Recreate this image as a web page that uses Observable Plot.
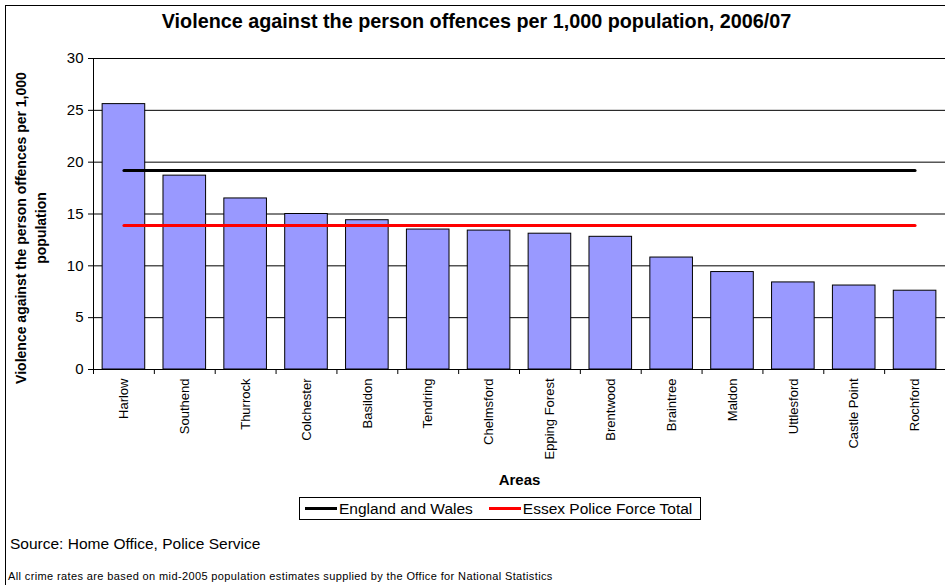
<!DOCTYPE html>
<html>
<head>
<meta charset="utf-8">
<script src="https://cdn.jsdelivr.net/npm/d3@7"></script>
<script src="https://cdn.jsdelivr.net/npm/@observablehq/plot@0.6"></script>
<style>
  html, body { margin:0; padding:0; background:#fff; overflow:hidden; }
  body { width:945px; height:585px; position:relative; font-family: Arial, "Liberation Sans", sans-serif; color:#000; }
  #border { position:absolute; left:5px; top:5px; width:1000px; height:700px; border-left:1.5px solid #000; border-top:1.5px solid #000; box-sizing:border-box; }
  #title { position:absolute; left:4px; width:945px; top:10px; text-align:center; font-weight:bold; font-size:19.8px; }
  #chart { position:absolute; left:0; top:40px; }
  #legend { position:absolute; left:299px; top:497px; width:402px; height:23px; border:1px solid #000; box-sizing:border-box; display:flex; align-items:center; font-size:15.5px; white-space:nowrap; }
  #legend .sw { display:inline-block; width:32px; height:3px; margin-right:2px; }
  #source { position:absolute; left:10px; top:535px; font-size:15.5px; }
  #note { position:absolute; left:8px; top:570px; font-size:11px; letter-spacing:0.38px; }
</style>
</head>
<body>
<div id="border"></div>
<div id="title"></div>
<div id="chart"></div>
<div id="legend"></div>
<div id="source"></div>
<div id="note"></div>
<script>
const titleText = "Violence against the person offences per 1,000 population, 2006/07";
const yLabel = "Violence against the person offences per 1,000\npopulation";
const xLabel = "Areas";
const areas = ["Harlow","Southend","Thurrock","Colchester","Basildon","Tendring","Chelmsford","Epping Forest","Brentwood","Braintree","Maldon","Uttlesford","Castle Point","Rochford"];
const rates = [25.6, 18.7, 16.5, 15.0, 14.4, 13.5, 13.4, 13.1, 12.8, 10.8, 9.4, 8.4, 8.1, 7.6];
const englandWales = 19.2;
const essexTotal = 13.9;
const yTicks = [0, 5, 10, 15, 20, 25, 30];
const seriesNames = ["England and Wales", "Essex Police Force Total"];
const seriesColors = ["#000000", "#FF0000"];
const sourceText = "Source: Home Office, Police Service";
const noteText = "All crime rates are based on mid-2005 population estimates supplied by the Office for National Statistics";

const data = areas.map((a, i) => ({area: a, rate: rates[i]}));

const W = 945, H = 450, ML = 93, MR = 0, MT = 18, MB = 121;
const step = (W - ML - MR) / areas.length;

document.getElementById("title").textContent = titleText;
document.getElementById("source").textContent = sourceText;
document.getElementById("note").textContent = noteText;

const legend = document.getElementById("legend");
legend.innerHTML = "";
seriesNames.forEach((n, i) => {
  const item = document.createElement("span");
  item.style.display = "inline-flex";
  item.style.alignItems = "center";
  item.style.marginLeft = i === 0 ? "5px" : "16px";
  const sw = document.createElement("span");
  sw.className = "sw";
  sw.style.background = seriesColors[i];
  item.appendChild(sw);
  item.appendChild(document.createTextNode(n));
  legend.appendChild(item);
});

const plot = Plot.plot({
  width: W, height: H,
  marginLeft: ML, marginRight: MR, marginTop: MT, marginBottom: MB,
  style: {fontFamily: "Arial, 'Liberation Sans', sans-serif", fontSize: "15px", color: "#000", background: "transparent", overflow: "visible"},
  x: {domain: areas, paddingInner: 0.3, paddingOuter: 0.15, round: false, label: null},
  y: {domain: [0, 30], ticks: yTicks, label: null},
  marks: [
    Plot.ruleY(yTicks.filter(d => d > 0), {stroke: "#000", strokeWidth: 1}),
    Plot.barY(data, {x: "area", y: "rate", fill: "#9999FF", stroke: "#000", strokeWidth: 1}),
    Plot.lineY(areas, {x: d => d, y: () => englandWales, stroke: seriesColors[0], strokeWidth: 3}),
    Plot.lineY(areas, {x: d => d, y: () => essexTotal, stroke: seriesColors[1], strokeWidth: 3}),
    Plot.ruleY([0], {stroke: "#000", strokeWidth: 1}),
    Plot.frame({anchor: "left", stroke: "#000"}),
    Plot.ruleX(areas, {x: d => d, y1: 0, y2: 0, insetBottom: -5, dx: -step / 2, stroke: "#000"}),
    Plot.axisY({ticks: yTicks, tickSize: 5, tickPadding: 5, fontSize: 15, label: null}),
    Plot.axisX({tickSize: 0, tickRotate: -90, tickPadding: 9, fontSize: 13, label: null}),
    Plot.text([xLabel], {frameAnchor: "bottom", dy: 115, fontWeight: "bold", fontSize: 15}),
    Plot.text([yLabel], {frameAnchor: "left", textAnchor: "middle", rotate: -90, dx: -63.5, dy: 14, fontWeight: "bold", fontSize: 14, lineHeight: 1.43})
  ]
});
document.getElementById("chart").appendChild(plot);
</script>
</body>
</html>
